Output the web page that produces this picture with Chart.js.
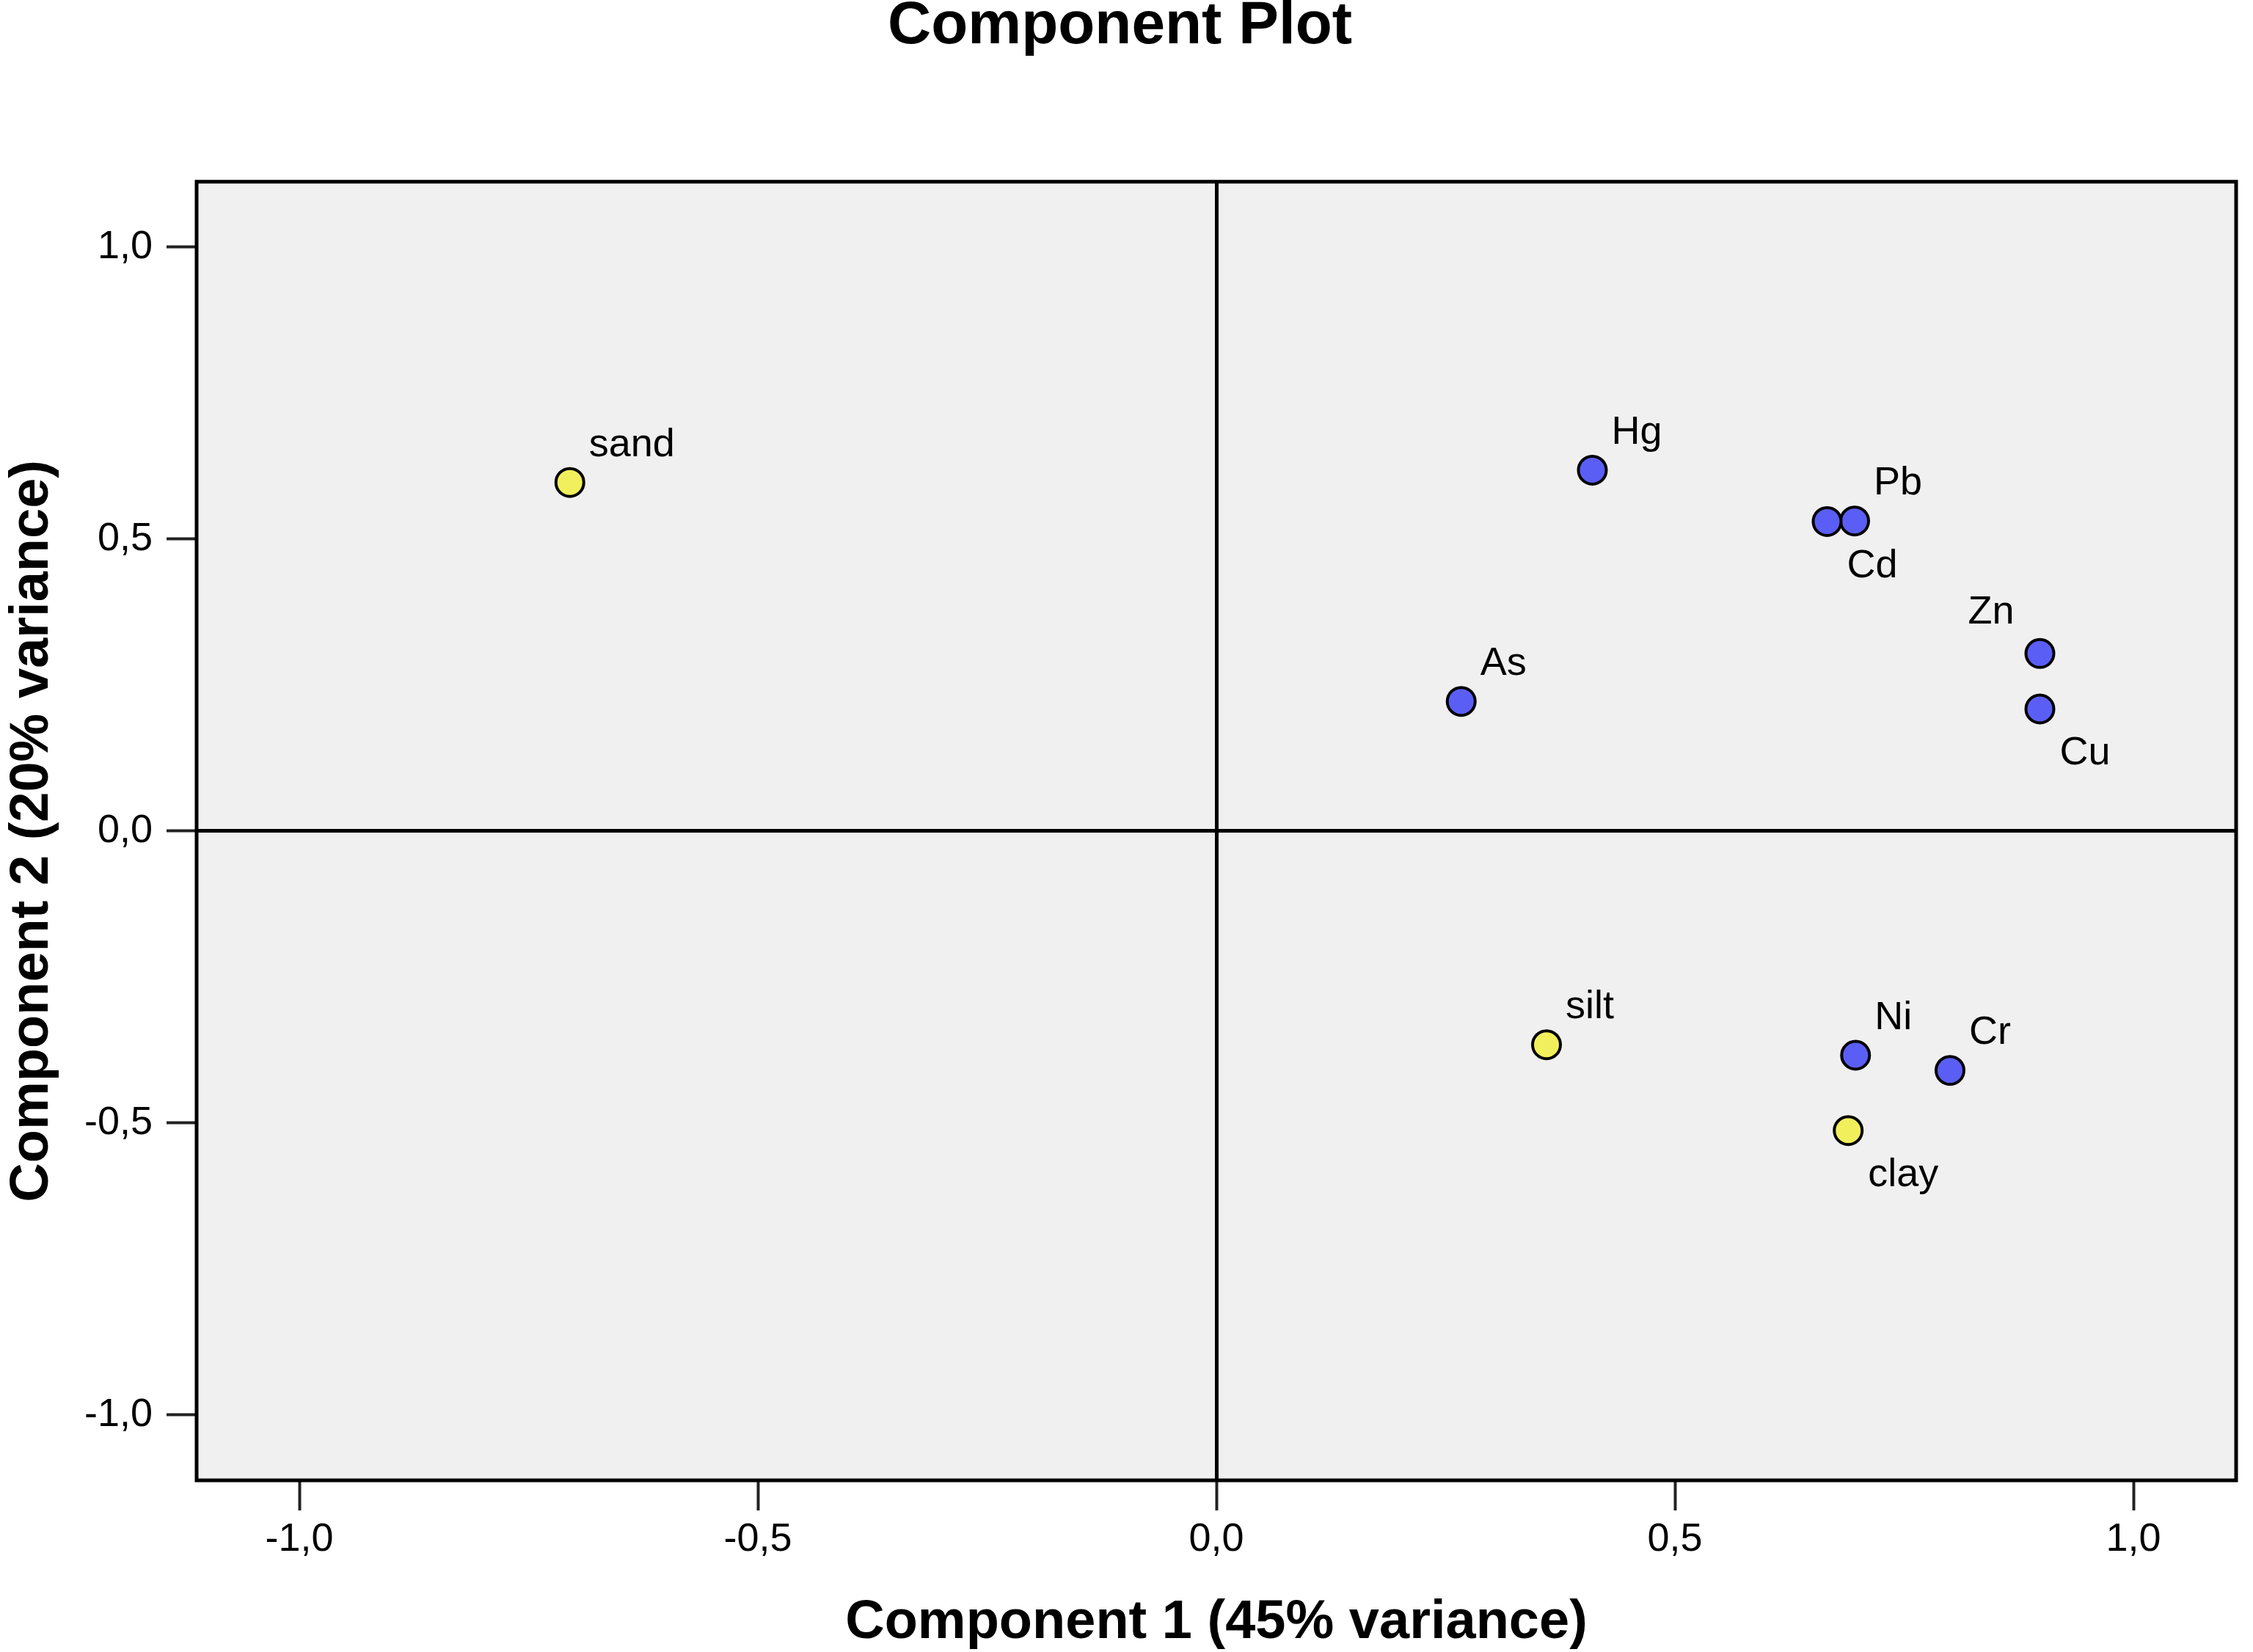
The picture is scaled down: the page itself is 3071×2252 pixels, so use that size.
<!DOCTYPE html>
<html>
<head>
<meta charset="utf-8">
<script src="https://cdn.jsdelivr.net/npm/chart.js@4.4.1/dist/chart.umd.min.js"></script>
<style>
  html, body { margin: 0; padding: 0; background: #ffffff; }
  #wrap { width: 3071px; height: 2252px; }
</style>
</head>
<body>
<div id="wrap"><canvas id="c" width="3071" height="2252"></canvas></div>
<script>
// ---- data ----
const variables  = ['sand', 'Hg',  'Pb',  'Cd',  'Zn',  'Cu',  'As',  'silt', 'Ni',   'Cr',   'clay'];
const component1 = [-0.705, 0.410, 0.696, 0.666, 0.898, 0.898, 0.267, 0.360, 0.697, 0.800, 0.689];
const component2 = [ 0.597, 0.618, 0.531, 0.530, 0.304, 0.209, 0.222, -0.366, -0.384, -0.410, -0.513];
const groups     = ['soil', 'metal','metal','metal','metal','metal','metal','soil','metal','metal','soil'];
const tickValues = [-1.0, -0.5, 0.0, 0.5, 1.0];
const tickLabels = ['-1,0', '-0,5', '0,0', '0,5', '1,0'];
const titleText  = 'Component Plot';
const xTitle     = 'Component 1 (45% variance)';
const yTitle     = 'Component 2 (20% variance)';

// ---- style ----
const FONT = "'Liberation Sans', Arial, sans-serif";
const labelPlacement = { Cd: 'below', Cu: 'below', clay: 'below', Zn: 'aboveLeft' };
const colors = { metal: '#5b5ef4', soil: '#f2ef5c' };

function buildPoints(group) {
  const pts = [];
  for (let i = 0; i < variables.length; i++) {
    if (groups[i] === group) pts.push({ x: component1[i], y: component2[i], name: variables[i] });
  }
  return pts;
}

const plotBg = {
  id: 'plotBg',
  beforeDraw(chart) {
    const { ctx, chartArea: a } = chart;
    ctx.save();
    ctx.fillStyle = '#f0f0f0';
    ctx.fillRect(a.left, a.top, a.right - a.left, a.bottom - a.top);
    ctx.restore();
  },
  afterDraw(chart) {
    const { ctx, chartArea: a } = chart;
    ctx.save();
    ctx.strokeStyle = '#000';
    ctx.lineWidth = 5;
    ctx.strokeRect(a.left, a.top, a.right - a.left, a.bottom - a.top);
    ctx.restore();
  }
};

const pointLabels = {
  id: 'pointLabels',
  afterDatasetsDraw(chart) {
    const { ctx } = chart;
    const xs = chart.scales.x, ys = chart.scales.y;
    ctx.save();
    ctx.font = '54px ' + FONT;
    ctx.fillStyle = '#000';
    ctx.textBaseline = 'alphabetic';
    chart.data.datasets.forEach(ds => {
      ds.data.forEach(p => {
        const px = xs.getPixelForValue(p.x);
        const py = ys.getPixelForValue(p.y);
        const place = labelPlacement[p.name] || 'above';
        if (place === 'below') {
          ctx.textAlign = 'left';
          ctx.fillText(p.name, px + 27, py + 76);
        } else if (place === 'aboveLeft') {
          ctx.textAlign = 'right';
          ctx.fillText(p.name, px - 35, py - 41);
        } else {
          ctx.textAlign = 'left';
          ctx.fillText(p.name, px + 26, py - 36);
        }
      });
    });
    ctx.restore();
  }
};

function gridColor(c) { return (c.tick && c.tick.value === 0) ? '#000000' : 'rgba(0,0,0,0)'; }
function setTicks(scale) { scale.ticks = tickValues.map(v => ({ value: v })); }
function tickCb(value) {
  const i = tickValues.findIndex(v => Math.abs(v - value) < 1e-9);
  return i >= 0 ? tickLabels[i] : '';
}

new Chart(document.getElementById('c'), {
  type: 'scatter',
  data: {
    datasets: [
      {
        label: 'metal',
        data: buildPoints('metal'),
        backgroundColor: colors.metal,
        borderColor: '#000',
        borderWidth: 4,
        pointRadius: 19,
        pointHoverRadius: 19
      },
      {
        label: 'soil',
        data: buildPoints('soil'),
        backgroundColor: colors.soil,
        borderColor: '#000',
        borderWidth: 4,
        pointRadius: 19,
        pointHoverRadius: 19
      }
    ]
  },
  options: {
    responsive: false,
    animation: false,
    devicePixelRatio: 1,
    layout: { padding: { top: 0, right: 18, bottom: 0, left: 0 } },
    plugins: {
      legend: { display: false },
      tooltip: { enabled: false },
      title: {
        display: true,
        text: titleText,
        color: '#000',
        font: { family: FONT, size: 82, weight: 'bold', lineHeight: 0.85 },
        padding: { top: 2, bottom: 176 }
      }
    },
    scales: {
      x: {
        type: 'linear',
        min: -1.112,
        max: 1.112,
        afterBuildTicks: setTicks,
        afterFit(scale) { scale.height = 234; },
        border: { display: false },
        grid: {
          color: gridColor,
          lineWidth: 5,
          drawTicks: true,
          tickLength: 41,
          tickColor: '#222',
          tickWidth: 4
        },
        ticks: {
          callback: tickCb,
          color: '#000',
          font: { family: FONT, size: 54 },
          padding: 8,
          maxRotation: 0,
          autoSkip: false
        },
        title: {
          display: true,
          text: xTitle,
          color: '#000',
          font: { family: FONT, size: 74, weight: 'bold', lineHeight: 1.2 },
          padding: { top: 0, bottom: -5 }
        }
      },
      y: {
        type: 'linear',
        min: -1.112,
        max: 1.112,
        afterBuildTicks: setTicks,
        afterFit(scale) { scale.width = 268; },
        border: { display: false },
        grid: {
          color: gridColor,
          lineWidth: 5,
          drawTicks: true,
          tickLength: 41,
          tickColor: '#222',
          tickWidth: 4
        },
        ticks: {
          callback: tickCb,
          color: '#000',
          font: { family: FONT, size: 54 },
          padding: 19,
          autoSkip: false
        },
        title: {
          display: true,
          text: yTitle,
          color: '#000',
          font: { family: FONT, size: 74, weight: 'bold', lineHeight: 1.2 },
          padding: { top: 0, bottom: 0 }
        }
      }
    }
  },
  plugins: [plotBg, pointLabels]
});
</script>
</body>
</html>
